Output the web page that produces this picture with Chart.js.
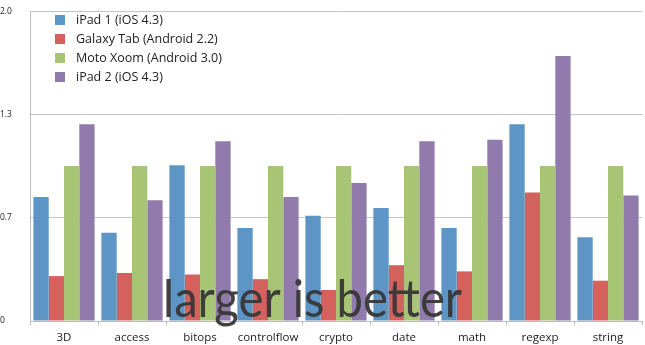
<!DOCTYPE html>
<html>
<head>
<meta charset="utf-8">
<script src="https://cdn.jsdelivr.net/npm/chart.js@4"></script>
<style>
  html, body { margin: 0; padding: 0; background: #fff; }
  #wrap { width: 645px; height: 345px; }
</style>
</head>
<body>
<div id="wrap"><canvas id="benchChart" width="645" height="345"></canvas></div>
<script>
const categories = ['3D', 'access', 'bitops', 'controlflow', 'crypto', 'date', 'math', 'regexp', 'string'];
const ipad1 = [0.80, 0.57, 1.005, 0.60, 0.68, 0.73, 0.60, 1.27, 0.54];
const galaxyTab = [0.29, 0.31, 0.30, 0.27, 0.20, 0.36, 0.32, 0.83, 0.26];
const motoXoom = [1.0, 1.0, 1.0, 1.0, 1.0, 1.0, 1.0, 1.0, 1.0];
const ipad2 = [1.27, 0.78, 1.16, 0.80, 0.89, 1.16, 1.17, 1.71, 0.81];
const yTickValues = [0, 2 / 3, 4 / 3, 2];
const yTickLabels = ['0', '0.7', '1.3', '2.0'];

const seriesNames = ['iPad 1 (iOS 4.3)', 'Galaxy Tab (Android 2.2)', 'Moto Xoom (Android 3.0)', 'iPad 2 (iOS 4.3)'];
const seriesColors = ['#5d95c7', '#d3625f', '#a8c575', '#917bad'];
const seriesData = [ipad1, galaxyTab, motoXoom, ipad2];

const ctx = document.getElementById('benchChart').getContext('2d');

// legend box inside the plot, top left
const insideLegend = {
    id: 'insideLegend',
    afterDatasetsDraw(chart) {
        const c = chart.ctx;
        c.save();
        c.font = '12.5px "Open Sans"';
        c.textBaseline = 'middle';
        chart.data.datasets.forEach((ds, i) => {
            const y = 20 + i * 19;
            c.fillStyle = ds.backgroundColor;
            c.fillRect(55, y - 5, 10, 10);
            c.fillStyle = '#222';
            c.fillText(ds.label, 76, y);
        });
        c.restore();
    }
};

// big caption drawn over the bars
const caption = {
    id: 'caption',
    afterDraw(chart) {
        const c = chart.ctx;
        const area = chart.chartArea;
        c.save();
        c.font = '53px Lato';
        const txt = 'larger is better';
        const w = c.measureText(txt).width;
        const target = 299;
        c.translate(area.left + 133, area.bottom - 4);
        c.scale(target / w, 1);
        c.fillStyle = 'rgba(55, 55, 55, 0.95)';
        c.textBaseline = 'alphabetic';
        c.fillText(txt, 0, 0);
        c.restore();
    }
};

new Chart(ctx, {
    type: 'bar',
    data: {
        labels: categories,
        datasets: seriesData.map((d, i) => ({
            label: seriesNames[i],
            data: d,
            backgroundColor: seriesColors[i],
            borderWidth: 0,
            categoryPercentage: 0.9,
            barPercentage: 1.0
        }))
    },
    options: {
        responsive: false,
        animation: false,
        devicePixelRatio: 1,
        layout: { padding: { top: 8, right: 3, left: 0, bottom: 0 } },
        plugins: {
            legend: { display: false },
            tooltip: { enabled: false }
        },
        scales: {
            x: {
                grid: {
                    display: true,
                    offset: true,
                    drawOnChartArea: false,
                    drawTicks: true,
                    tickLength: 4,
                    color: '#bbb'
                },
                border: { color: '#bbb' },
                ticks: {
                    color: '#222',
                    font: { family: 'Open Sans', size: 11.5 },
                    padding: 6,
                    maxRotation: 0
                },
                afterFit(scale) { scale.height = 24; }
            },
            y: {
                min: 0,
                max: 2,
                afterBuildTicks(scale) {
                    scale.ticks = yTickValues.map(v => ({ value: v }));
                },
                afterFit(scale) { scale.width = 30; },
                grid: {
                    color: '#c4c4c4',
                    drawTicks: false
                },
                border: { display: true, color: '#bbb' },
                ticks: {
                    color: '#222',
                    font: { family: 'Open Sans', size: 8.5 },
                    crossAlign: 'far',
                    padding: 6,
                    callback: (v, i) => yTickLabels[i]
                }
            }
        }
    },
    plugins: [insideLegend, caption]
});
</script>
</body>
</html>
